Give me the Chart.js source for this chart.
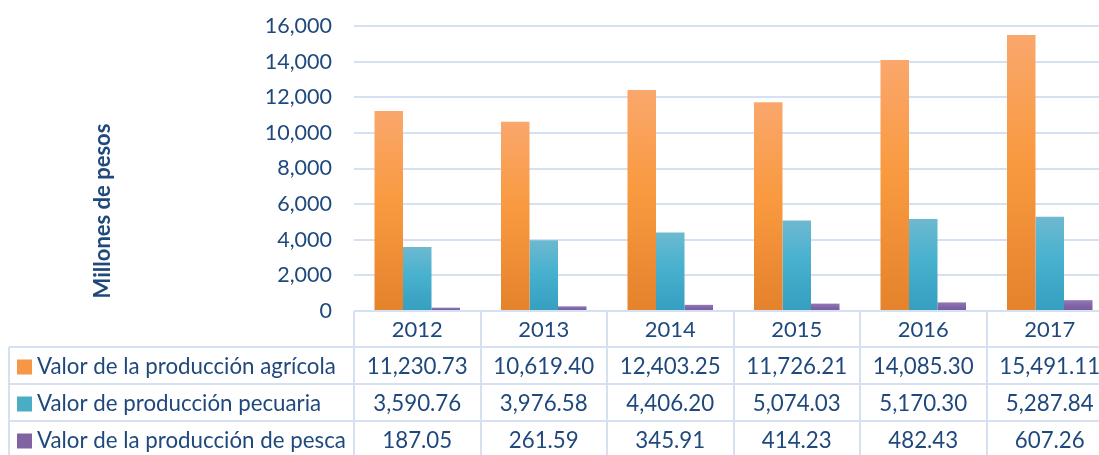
<!DOCTYPE html>
<html>
<head>
<meta charset="utf-8">
<script src="https://cdn.jsdelivr.net/npm/chart.js@4.4.1/dist/chart.umd.min.js"></script>
<style>
  html, body { margin: 0; padding: 0; background: #fff; overflow: hidden; }
  #wrap { width: 1113px; height: 455px; }
</style>
</head>
<body>
<div id="wrap"><canvas id="myChart" width="1113" height="455"></canvas></div>
<script>
const years = ["2012", "2013", "2014", "2015", "2016", "2017"]
const agricola = [11230.73, 10619.40, 12403.25, 11726.21, 14085.30, 15491.11]
const pecuaria = [3590.76, 3976.58, 4406.20, 5074.03, 5170.30, 5287.84]
const pesca = [187.05, 261.59, 345.91, 414.23, 482.43, 607.26]
const seriesNames = [
  "Valor de la producción agrícola",
  "Valor de producción pecuaria",
  "Valor de la producción de pesca",
]
const yTitle = "Millones de pesos"

const textColor = "#1F497D"
const lineColor = "#D5E1F1"
const font = "Lato, 'Noto Sans', sans-serif"

// top / middle / bottom of each bar
const shades = [
  ["#FAA76C", "#F99A40", "#E5822C"],
  ["#6DB9D0", "#47B1CF", "#369EBF"],
  ["#9079B5", "#8366A8", "#7659A0"],
]

function barFill(idx) {
  return (ctx) => {
    const chart = ctx.chart
    if (!chart.chartArea || ctx.type !== "data") return shades[idx][1]
    const y = chart.scales.y
    const top = y.getPixelForValue(ctx.raw)
    const base = y.getPixelForValue(0)
    if (base - top < 1) return shades[idx][1]
    const g = chart.ctx.createLinearGradient(0, top, 0, base)
    g.addColorStop(0, shades[idx][0])
    g.addColorStop(0.45, shades[idx][1])
    g.addColorStop(1, shades[idx][2])
    return g
  }
}

const fmt = (v) => v.toLocaleString("en-US", { minimumFractionDigits: 2, maximumFractionDigits: 2 })

// data table under the plot, column positions taken from the x scale
const tablePlugin = {
  id: "dataTable",
  afterDraw(chart) {
    const c = chart.ctx
    const x = chart.scales.x
    const area = chart.chartArea
    const colW = (area.right - area.left) / years.length
    const top = area.bottom
    const headH = 36
    const rowH = 37
    const tableLeft = 9
    const rows = [agricola, pecuaria, pesca]
    const bottom = top + headH + rowH * rows.length

    c.save()
    c.strokeStyle = lineColor
    c.lineWidth = 2
    c.beginPath()
    // column borders
    for (let i = 0; i <= years.length; i++) {
      const px = Math.round(area.left + colW * i)
      c.moveTo(px, top)
      c.lineTo(px, bottom)
    }
    // row borders
    c.moveTo(area.left, top)
    c.lineTo(area.right, top)
    for (let r = 0; r <= rows.length; r++) {
      const py = Math.round(top + headH + rowH * r)
      c.moveTo(tableLeft, py)
      c.lineTo(area.right, py)
    }
    c.moveTo(tableLeft, top + headH)
    c.lineTo(tableLeft, bottom)
    c.stroke()

    c.fillStyle = textColor
    c.textAlign = "center"
    c.textBaseline = "middle"
    c.font = "22px " + font
    years.forEach((yr, i) => {
      c.fillText(yr, x.getPixelForValue(i), top + headH / 2 + 1)
    })
    c.font = "22.3px " + font
    rows.forEach((vals, r) => {
      const cy = top + headH + rowH * r + rowH / 2 + 1
      vals.forEach((v, i) => c.fillText(fmt(v), x.getPixelForValue(i), cy))
      // legend key
      c.fillStyle = chart.data.datasets[r].legendColor
      c.fillRect(17, cy - 7, 15, 15)
      c.fillStyle = textColor
      c.textAlign = "left"
      c.fillText(seriesNames[r], 37, cy)
      c.textAlign = "center"
    })

    // y axis title
    c.save()
    c.translate(103, 211)
    c.rotate(-Math.PI / 2)
    c.font = "bold 22px " + font
    c.fillText(yTitle, 0, 0)
    c.restore()
    c.restore()
  },
}

const ctx = document.getElementById("myChart").getContext("2d")
let myChart = new Chart(ctx, {
  type: "bar",
  data: {
    labels: years,
    datasets: [
      { label: seriesNames[0], data: agricola, backgroundColor: barFill(0), legendColor: "#F79646" },
      { label: seriesNames[1], data: pecuaria, backgroundColor: barFill(1), legendColor: "#4BACC6" },
      { label: seriesNames[2], data: pesca, backgroundColor: barFill(2), legendColor: "#8064A2" },
    ],
  },
  options: {
    responsive: false,
    animation: false,
    categoryPercentage: 0.676,
    barPercentage: 1,
    layout: { padding: { top: 26, bottom: 144, left: 0, right: 0 } },
    scales: {
      x: { display: false },
      y: {
        min: 0,
        max: 16000,
        afterFit(scale) {
          scale.width = 354
        },
        border: { display: false },
        grid: { color: lineColor, lineWidth: 2, drawTicks: true, tickLength: 22, tickColor: "rgba(0,0,0,0)" },
        ticks: {
          stepSize: 2000,
          padding: 0,
          color: textColor,
          font: { family: font, size: 21.5 },
          callback: (v) => v.toLocaleString("en-US"),
        },
      },
    },
    plugins: {
      legend: { display: false },
      tooltip: { enabled: false },
    },
  },
  plugins: [tablePlugin],
})
</script>
</body>
</html>
